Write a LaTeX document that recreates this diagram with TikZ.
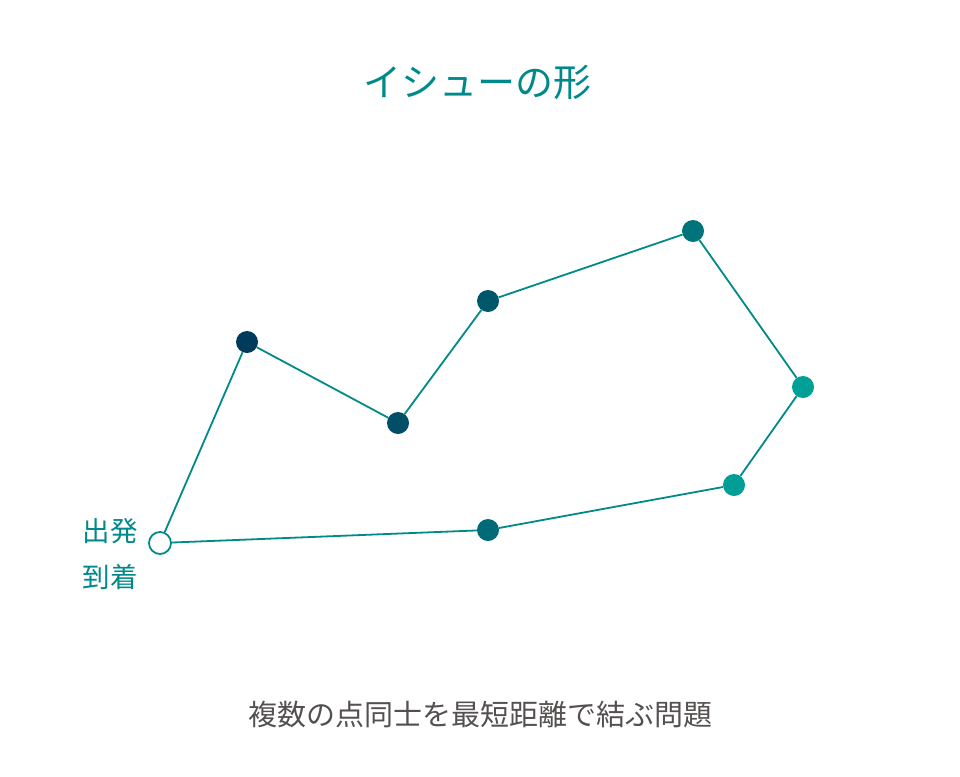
\documentclass[tikz,border=0pt]{standalone}
\usepackage{fontspec}
\newfontfamily\cjk{Noto Sans CJK JP}
\definecolor{teal1}{HTML}{00898A}
\definecolor{lineC}{HTML}{008A88}
\definecolor{cA}{HTML}{003A5C}
\definecolor{cB}{HTML}{004E68}
\definecolor{cC}{HTML}{00566B}
\definecolor{cD}{HTML}{00737B}
\definecolor{cE}{HTML}{00A096}
\definecolor{cF}{HTML}{009E96}
\definecolor{cG}{HTML}{006B77}
\definecolor{grayT}{HTML}{555050}
\begin{document}
\begin{tikzpicture}[x=1pt,y=-1pt,
  dot/.style={circle,inner sep=0pt,minimum size=22pt},
  link/.style={draw=lineC,line width=1.8pt}]
\useasboundingbox (0,0) rectangle (960,776);
\node[font=\cjk\fontsize{38}{42}\selectfont,text=teal1] (title) at (477,82) {イシューの形};
\node[dot,fill=white,draw=lineC,line width=1.8pt] (s) at (160,543) {};
\node[dot,fill=cA] (a) at (247,342) {};
\node[dot,fill=cB] (b) at (398,423) {};
\node[dot,fill=cC] (c) at (488,301) {};
\node[dot,fill=cD] (d) at (693,231) {};
\node[dot,fill=cE] (e) at (803,387) {};
\node[dot,fill=cF] (f) at (734,485) {};
\node[dot,fill=cG] (g) at (488,530) {};
\draw[link] (s) -- (a);
\draw[link] (a) -- (b);
\draw[link] (b) -- (c);
\draw[link] (c) -- (d);
\draw[link] (d) -- (e);
\draw[link] (e) -- (f);
\draw[link] (f) -- (g);
\draw[link] (g) -- (s);
\node[font=\cjk\fontsize{27.5}{30}\selectfont,text=teal1] (l1) at (110,531) {出発};
\node[font=\cjk\fontsize{27.5}{30}\selectfont,text=teal1] (l2) at (110,577) {到着};
\node[font=\cjk\fontsize{29}{32}\selectfont,text=grayT] (cap) at (480,714) {複数の点同士を最短距離で結ぶ問題};
\end{tikzpicture}
\end{document}
